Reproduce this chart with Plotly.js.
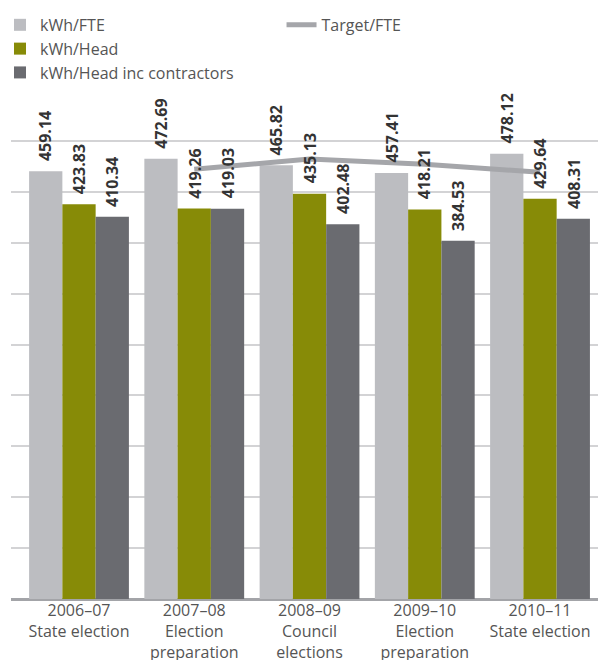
<!DOCTYPE html>
<html>
<head>
<meta charset="utf-8">
<script src="https://cdn.plot.ly/plotly-3.0.1.min.js"></script>
<style>html,body{margin:0;padding:0;background:#fff;}#chart{width:599px;height:660px;}</style>
</head>
<body>
<div id="chart"></div>
<script>
const categories = [
  "2006–07<br>State election",
  "2007–08<br>Election<br>preparation",
  "2008–09<br>Council<br>elections",
  "2009–10<br>Election<br>preparation",
  "2010–11<br>State election"
];
const kwhPerFTE = [459.14, 472.69, 465.82, 457.41, 478.12];
const kwhPerHead = [423.83, 419.26, 435.13, 418.21, 429.64];
const kwhPerHeadContractors = [410.34, 419.03, 402.48, 384.53, 408.31];
const targetStart = 1; // target line begins at 2007–08
const targetPerFTE = [461.4, 472.4, 466.7, 458.2];

const seriesNames = ["kWh/FTE", "kWh/Head", "kWh/Head inc contractors"];
const seriesColors = ["#bcbdc1", "#878b07", "#6a6b70"];
const seriesValues = [kwhPerFTE, kwhPerHead, kwhPerHeadContractors];

const catIdx = categories.map((c, i) => i);
const targetIdx = targetPerFTE.map((v, i) => i + targetStart);

const bargap = 0.134;
const barW = (1 - bargap) / 3;
const xRange = [-0.59, 4.503];
const FONT = "Open Sans, Lato, sans-serif";

const traces = seriesValues.map((vals, j) => ({
  type: "bar",
  name: seriesNames[j],
  x: catIdx,
  y: vals,
  marker: {color: seriesColors[j], line: {width: 0}},
  hoverinfo: "none",
  legend: "legend"
}));
traces.push({
  type: "scatter",
  mode: "lines",
  name: "Target/FTE",
  x: targetIdx,
  y: targetPerFTE,
  line: {color: "#a5a6aa", width: 5},
  hoverinfo: "none",
  legend: "legend2"
});

const annotations = [];
seriesValues.forEach((vals, j) => {
  vals.forEach((v, i) => {
    annotations.push({
      x: catIdx[i] + (j - 1) * barW,
      y: v,
      xref: "x", yref: "y",
      text: v.toFixed(2),
      showarrow: false,
      textangle: -90,
      xanchor: "center",
      yanchor: "bottom",
      yshift: 8,
      font: {family: FONT, size: 16, color: "#333", weight: 700}
    });
  });
});

const layout = {
  width: 599, height: 660,
  margin: {l: 11, r: 1, t: 90, b: 61, autoexpand: false},
  paper_bgcolor: "#fff", plot_bgcolor: "#fff",
  barmode: "group", bargap: bargap, bargroupgap: 0,
  font: {family: FONT, size: 16, color: "#555"},
  xaxis: {
    type: "linear",
    range: xRange, autorange: false,
    tickmode: "array", tickvals: catIdx, ticktext: categories,
    showgrid: false, zeroline: false, showline: false,
    ticks: "", tickangle: 0, automargin: false,
    tickfont: {family: FONT, size: 16, color: "#555"},
    fixedrange: true
  },
  yaxis: {
    range: [0, 546.5], autorange: false,
    tick0: 0, dtick: 54.65,
    showticklabels: false, automargin: false,
    gridcolor: "#d3d3d5", gridwidth: 2,
    zeroline: true, zerolinecolor: "#a3a4a8", zerolinewidth: 3,
    showline: false, ticks: "", fixedrange: true
  },
  showlegend: true,
  legend: {
    xref: "container", yref: "container",
    x: 0, y: 0.988, xanchor: "left", yanchor: "top",
    orientation: "v", traceorder: "normal",
    font: {family: FONT, size: 16, color: "#555"},
    bgcolor: "rgba(0,0,0,0)", tracegroupgap: 0
  },
  legend2: {
    xref: "container", yref: "container",
    x: 0.47, y: 0.988, xanchor: "left", yanchor: "top",
    font: {family: FONT, size: 16, color: "#555"},
    bgcolor: "rgba(0,0,0,0)"
  },
  annotations: annotations
};

Plotly.newPlot("chart", traces, layout, {staticPlot: true, displayModeBar: false});
</script>
</body>
</html>
